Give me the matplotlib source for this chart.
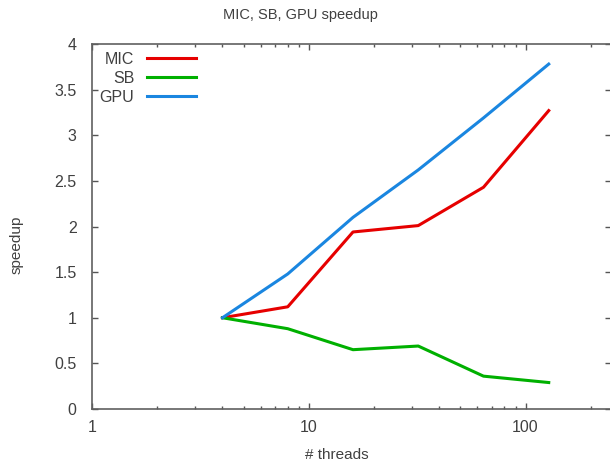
import matplotlib.pyplot as plt
from matplotlib.ticker import LogLocator, FuncFormatter, MultipleLocator, NullFormatter

plt.rcParams["font.family"] = ["Liberation Sans", "DejaVu Sans"]

threads = [4, 8, 16, 32, 64, 128]
mic = [1.0, 1.12, 1.94, 2.01, 2.43, 3.27]
sb = [1.0, 0.88, 0.65, 0.69, 0.36, 0.29]
gpu = [1.0, 1.48, 2.10, 2.62, 3.19, 3.78]

txt = "#404040"
fig = plt.figure(figsize=(6.1, 4.65), dpi=100)
ax = fig.add_axes([92 / 610, 1 - 409 / 465, 519 / 610, 365 / 465])

ax.plot(threads, mic, color="#e60000", lw=2.2, label="MIC")
ax.plot(threads, sb, color="#00b000", lw=2.2, label="SB")
ax.plot(threads, gpu, color="#1a86e0", lw=2.2, label="GPU")

ax.set_xscale("log")
ax.set_xlim(1, 248)
ax.set_ylim(0, 4)
ax.xaxis.set_major_locator(LogLocator(base=10))
ax.xaxis.set_major_formatter(FuncFormatter(lambda v, p: f"{v:g}"))
ax.xaxis.set_minor_locator(LogLocator(base=10, subs=range(2, 10)))
ax.xaxis.set_minor_formatter(NullFormatter())
ax.yaxis.set_major_locator(MultipleLocator(0.5))
ax.yaxis.set_major_formatter(FuncFormatter(lambda v, p: f"{v:g}"))

ax.tick_params(which="both", direction="in", top=True, right=True,
               colors="#555555", labelcolor=txt, labelsize=11.5, width=1)
ax.tick_params(which="major", length=4)
ax.tick_params(which="minor", length=2.5)
ax.tick_params(axis="y", pad=11)
ax.tick_params(axis="x", pad=8)
for s in ax.spines.values():
    s.set_color("#606060")
    s.set_linewidth(1.2)

leg = ax.legend(loc="upper left", bbox_to_anchor=(0.0, 1.0), frameon=False,
                markerfirst=False, handlelength=3.05, handletextpad=0.8,
                labelspacing=0.25, fontsize=11.5, borderaxespad=0.08)
for t in leg.get_texts():
    t.set_color(txt)

fig.text(300 / 610, 1 - 15 / 465, "MIC, SB, GPU speedup", ha="center", va="center",
         fontsize=10.5, color=txt)
fig.text(337 / 610, 1 - 455 / 465, "# threads", ha="center", va="center",
         fontsize=11, color=txt)
fig.text(17 / 610, 1 - 245 / 465, "speedup", ha="center", va="center",
         rotation=90, fontsize=11, color=txt)

fig.savefig("out.png", dpi=100)
